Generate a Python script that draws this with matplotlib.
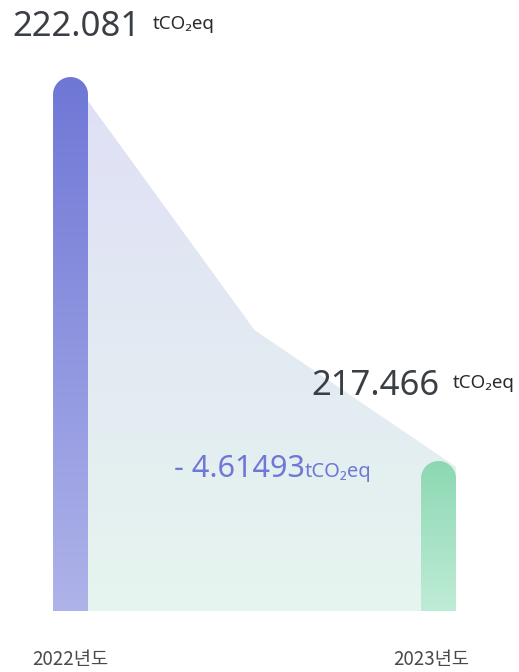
import numpy as np
import matplotlib.pyplot as plt
from matplotlib.colors import LinearSegmentedColormap
from matplotlib.path import Path
from matplotlib.patches import PathPatch, Polygon

# data
years = ['2022년도', '2023년도']
values = [222.081, 217.466]
diff_value = 4.61493
unit = 'tCO₂eq'
mid_value = 219.04   # kink of the background shape between the two years

base = 215.66
bar_w = 0.095

bar_colors = [('#aeb3e9', '#6f77d6'), ('#bfecd6', '#8cd8b3')]
area_colors = ('#e6f5ef', '#dfdff6')

num_font = ['Noto Sans', 'DejaVu Sans']
kr_font = ['Noto Sans CJK KR', 'DejaVu Sans']

fig = plt.figure(figsize=(5.19, 6.72), dpi=100)
ax = fig.add_axes([0, 0, 1, 1])
ax.set_xlim(-0.1916, 1.2187)
ax.set_ylim(214.93, 223.007)
ax.axis('off')

x = np.arange(len(values))


def grad_img(c_bottom, c_top, extent, clip, zorder):
    cmap = LinearSegmentedColormap.from_list('g', [c_bottom, c_top])
    g = np.linspace(0, 1, 256).reshape(-1, 1)
    im = ax.imshow(g, cmap=cmap, extent=extent, origin='lower', aspect='auto',
                   interpolation='bicubic', zorder=zorder)
    im.set_clip_path(clip)


# background shape from top of first bar down to second bar
area_pts = [(x[0], base), (x[0], values[0]), ((x[0] + x[1]) / 2, mid_value),
            (x[1] + bar_w / 2, values[1] - 0.07), (x[1] + bar_w / 2, base)]
area = Polygon(area_pts, closed=True, facecolor='none', edgecolor='none')
ax.add_patch(area)
grad_img(area_colors[0], area_colors[1],
         [x[0], x[1] + bar_w / 2, base, values[0]], area, 1)

# rounded bars with gradient
fig.canvas.draw()
px_x = ax.transData.transform((1, 0))[0] - ax.transData.transform((0, 0))[0]
px_y = ax.transData.transform((0, 1))[1] - ax.transData.transform((0, 0))[1]
rx = bar_w / 2
ry = rx * px_x / px_y

for xi, v, (cb, ct) in zip(x, values, bar_colors):
    t = np.linspace(np.pi, 0, 40)
    arc = [(xi + rx * np.cos(a), v - ry + ry * np.sin(a)) for a in t]
    verts = [(xi - rx, base)] + arc + [(xi + rx, base), (xi - rx, base)]
    codes = [Path.MOVETO] + [Path.LINETO] * (len(verts) - 2) + [Path.CLOSEPOLY]
    patch = PathPatch(Path(verts, codes), facecolor='none', edgecolor='none')
    ax.add_patch(patch)
    grad_img(cb, ct, [xi - rx, xi + rx, base, v], patch, 2)

# value labels
t1 = ax.annotate(f'{values[0]:.3f}', xy=(x[0], values[0]), xytext=(-58, 41),
                 textcoords='offset pixels', ha='left', va='baseline',
                 fontsize=25, color='#3a3f45', family=num_font)
ax.annotate(unit, xy=(1, 0.5), xycoords=t1, xytext=(12, 3), textcoords='offset pixels',
            ha='left', va='center', fontsize=13.5, color='#2b2b2b', family=num_font)

t2 = ax.annotate(f'{values[1]:.3f}', xy=(x[1], values[1]), xytext=(-127, 66),
                 textcoords='offset pixels', ha='left', va='baseline',
                 fontsize=25, color='#3a3f45', family=num_font)
ax.annotate(unit, xy=(1, 0.5), xycoords=t2, xytext=(13, 3), textcoords='offset pixels',
            ha='left', va='center', fontsize=13.5, color='#2b2b2b', family=num_font)

t3 = ax.annotate(f'- {diff_value}', xy=(0.5, values[1]), xytext=(-81, -16),
                 textcoords='offset pixels', ha='left', va='baseline',
                 fontsize=22, color='#6f78d6', family=num_font)
ax.annotate(unit, xy=(1, 0), xycoords=t3, xytext=(0, 2), textcoords='offset pixels',
            ha='left', va='bottom', fontsize=14.5, color='#6f78d6', family=num_font)

# year labels
for xi, lab, dx in zip(x, years, [0, -7]):
    ax.annotate(lab, xy=(xi, base), xytext=(dx, -48), textcoords='offset pixels',
                ha='center', va='center', fontsize=13.5, color='#4a4a4a', family=kr_font)

fig.savefig('out.png', dpi=100)
